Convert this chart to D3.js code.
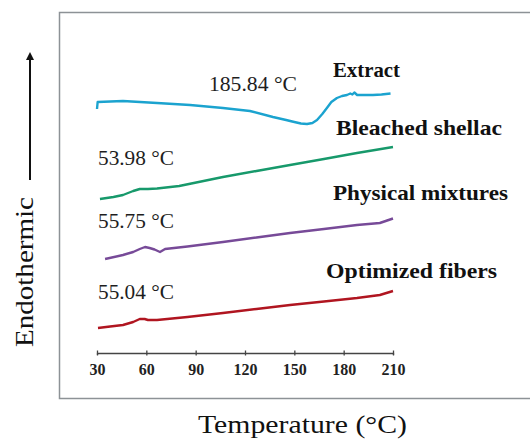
<!DOCTYPE html>
<html>
<head>
<meta charset="utf-8">
<script src="https://cdn.jsdelivr.net/npm/d3@7"></script>
<style>
  html, body { margin: 0; padding: 0; background: #fff; }
  svg { display: block; }
  text { font-family: "Palatino Linotype", "Book Antiqua", "Liberation Serif", serif; }
</style>
</head>
<body>
<div id="dsc-chart"></div>
<script>
// DSC thermograms, heat flow in arbitrary units (curves offset vertically)
const tempTicks = [30, 60, 90, 120, 150, 180, 210];

const extract = [[30, 243], [30.4, 250], [45.8, 251], [66.5, 249], [86.6, 247], [106.6, 244],
  [123, 241], [137, 235], [145, 232], [150, 230], [154, 228.5], [157.7, 228], [161, 229],
  [163.8, 232], [167, 238], [169.8, 244], [172.5, 250], [175.9, 254], [179, 256], [182, 257],
  [184, 258.5], [185.3, 257.5], [186.5, 259.5], [188.2, 257], [190, 257], [197.8, 257],
  [203, 257.5], [208.5, 258.5]];

const bleached = [[31.8, 153], [40, 155], [45.8, 157], [52, 161], [56, 163], [61, 163],
  [66.5, 163.5], [80, 166], [106.6, 175], [127, 181], [147.4, 187], [168, 193],
  [188.1, 199], [210, 205]];

const physical = [[34.9, 93], [45.8, 97], [52, 100], [56, 103], [59.2, 105], [62, 104],
  [65, 102.5], [68.3, 100], [71.4, 103], [85, 105.5], [106.6, 110], [127, 114.5],
  [147.4, 119], [168, 123], [188.1, 127], [202, 129], [210, 133.5]];

const optimized = [[30.6, 24], [38, 25.5], [45.8, 27], [52, 30], [56, 33], [59, 33],
  [61, 32], [66.5, 32], [85, 35], [106.6, 39], [127, 43], [147.4, 47], [168, 50.5],
  [188.1, 54], [202, 57], [210, 61]];

const seriesNames = ["Extract", "Bleached shellac", "Physical mixtures", "Optimized fibers"];
const seriesColors = ["#1ba3cf", "#17996b", "#774a98", "#b01520"];

// label anchors [temperature, heat flow, text, width]
const peakLabels = [[98.1, 261, "185.84 °C", 88], [30.6, 187, "53.98 °C", 76],
  [30.6, 124, "55.75 °C", 76], [30.6, 53, "55.04 °C", 76]];
const nameLabels = [[173.5, 275, 67], [175.3, 217, 166], [173.5, 152, 175], [169.3, 74, 171]];

const width = 530, height = 441;

const svg = d3.select("#dsc-chart")
  .append("svg")
  .attr("width", width)
  .attr("height", height)
  .attr("viewBox", "0 0 " + width + " " + height);

let x = d3.scaleLinear().domain([30, 210]).range([97, 393]);
let y = d3.scaleLinear().domain([0, 340]).range([352, 12]);

// outer frame (runs off the right edge)
svg.append("rect")
  .attr("x", 59.5)
  .attr("y", 12.5)
  .attr("width", 500)
  .attr("height", 386)
  .attr("fill", "none")
  .attr("stroke", "#8d9296")
  .attr("stroke-width", 1.5);

let line = d3.line()
  .x((d) => x(d[0]))
  .y((d) => y(d[1]));

svg.selectAll(".curve")
  .data([extract, bleached, physical, optimized])
  .enter().append("path")
    .attr("class", "curve")
    .attr("d", line)
    .attr("fill", "none")
    .attr("stroke", (d, i) => seriesColors[i])
    .attr("stroke-width", 2.4)
    .attr("stroke-linejoin", "round");

svg.selectAll(".peak-label")
  .data(peakLabels)
  .enter().append("text")
    .attr("class", "peak-label")
    .attr("x", (d) => x(d[0]))
    .attr("y", (d) => y(d[1]))
    .attr("font-size", 21)
    .attr("fill", "#1e1e1e")
    .attr("textLength", (d) => d[3])
    .attr("lengthAdjust", "spacingAndGlyphs")
    .text((d) => d[2]);

svg.selectAll(".name-label")
  .data(nameLabels)
  .enter().append("text")
    .attr("class", "name-label")
    .attr("x", (d) => x(d[0]))
    .attr("y", (d) => y(d[1]))
    .attr("font-size", 21)
    .attr("font-weight", "bold")
    .attr("fill", "#111")
    .attr("textLength", (d) => d[2])
    .attr("lengthAdjust", "spacingAndGlyphs")
    .text((d, i) => seriesNames[i]);

// temperature axis
let axis = svg.append("g")
  .attr("transform", "translate(0,353)")
  .call(d3.axisBottom(x).tickValues(tempTicks).tickSizeOuter(0).tickSize(2));

axis.select(".domain").attr("stroke", "#444").attr("stroke-width", 1.3);
axis.selectAll(".tick line").attr("y1", -2.5).attr("y2", 2.5).attr("stroke", "#444").attr("stroke-width", 1.3);
axis.selectAll(".tick text")
  .attr("y", 22)
  .attr("dy", 0)
  .attr("font-family", "'Liberation Serif', serif")
  .attr("font-size", 16)
  .attr("font-weight", "bold")
  .attr("fill", "#222");

svg.append("text")
  .attr("x", 198)
  .attr("y", 433)
  .attr("font-size", 26)
  .attr("fill", "#111")
  .attr("textLength", 209)
  .attr("lengthAdjust", "spacingAndGlyphs")
  .text("Temperature  (°C)");

// endothermic direction
svg.append("defs").append("marker")
  .attr("id", "arrow-head")
  .attr("viewBox", "0 0 10 10")
  .attr("refX", 5)
  .attr("refY", 5)
  .attr("markerWidth", 4)
  .attr("markerHeight", 5)
  .attr("orient", "auto")
  .append("path")
    .attr("d", "M0,0 L10,5 L0,10 Z")
    .attr("fill", "#111");

svg.append("line")
  .attr("x1", 30)
  .attr("x2", 30)
  .attr("y1", 180)
  .attr("y2", 56)
  .attr("stroke", "#111")
  .attr("stroke-width", 2)
  .attr("marker-end", "url(#arrow-head)");

svg.append("text")
  .attr("transform", "translate(33,347) rotate(-90)")
  .attr("font-size", 25)
  .attr("fill", "#111")
  .attr("textLength", 150)
  .attr("lengthAdjust", "spacingAndGlyphs")
  .text("Endothermic");
</script>
</body>
</html>
